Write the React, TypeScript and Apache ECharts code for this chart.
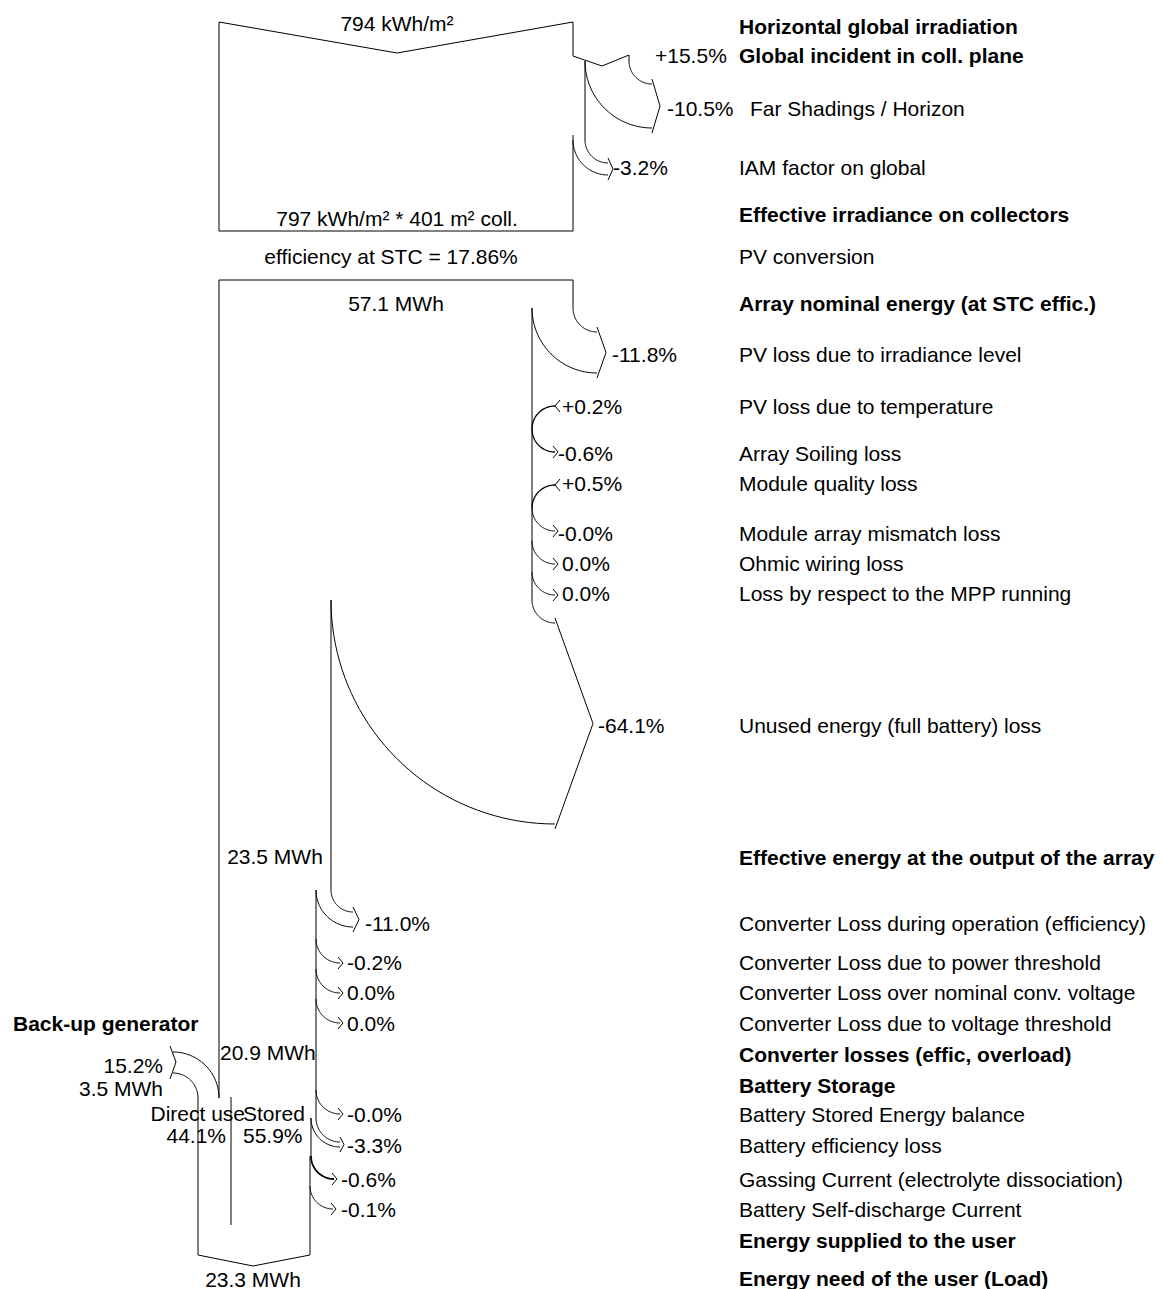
import React, { useEffect, useRef } from 'react';
import * as echarts from 'echarts';

// ---------------- DATA ----------------
const stepLabels = [
  'Horizontal global irradiation',
  'Global incident in coll. plane',
  'Far Shadings / Horizon',
  'IAM factor on global',
  'Effective irradiance on collectors',
  'PV conversion',
  'Array nominal energy (at STC effic.)',
  'PV loss due to irradiance level',
  'PV loss due to temperature',
  'Array Soiling loss',
  'Module quality loss',
  'Module array mismatch loss',
  'Ohmic wiring loss',
  'Loss by respect to the MPP running',
  'Unused energy (full battery) loss',
  'Effective energy at the output of the array',
  'Converter Loss during operation (efficiency)',
  'Converter Loss due to power threshold',
  'Converter Loss over nominal conv. voltage',
  'Converter Loss due to voltage threshold',
  'Converter losses (effic, overload)',
  'Battery Storage',
  'Battery Stored Energy balance',
  'Battery efficiency loss',
  'Gassing Current (electrolyte dissociation)',
  'Battery Self-discharge Current',
  'Energy supplied to the user',
  'Energy need of the user (Load)',
];
const stepBold = [1, 1, 0, 0, 1, 0, 1, 0, 0, 0, 0, 0, 0, 0, 0, 1, 0, 0, 0, 0, 1, 1, 0, 0, 0, 0, 1, 1];
const stepPercent = [
  '', '+15.5%', '-10.5%', '-3.2%', '', '', '', '-11.8%', '+0.2%', '-0.6%', '+0.5%', '-0.0%', '0.0%', '0.0%',
  '-64.1%', '', '-11.0%', '-0.2%', '0.0%', '0.0%', '', '', '-0.0%', '-3.3%', '-0.6%', '-0.1%', '', '',
];
const flowLabels = [
  '794 kWh/m²',
  '797 kWh/m² * 401 m² coll.',
  'efficiency at STC = 17.86%',
  '57.1 MWh',
  '23.5 MWh',
  '20.9 MWh',
  '23.3 MWh',
];
const backupLabels = ['Back-up generator', '15.2%', '3.5 MWh'];
const splitLabels = ['Direct use', '44.1%', 'Stored', '55.9%'];

// ---------------- LAYOUT ----------------
const rowY = [26, 55, 108, 167, 214, 256, 303, 354, 406, 453, 483, 533, 563, 593, 725, 857, 923, 962, 992, 1023, 1054, 1085, 1114, 1145, 1179, 1209, 1240, 1278];
const labelX = [739, 739, 750, 739, 739, 739, 739, 739, 739, 739, 739, 739, 739, 739, 739, 739, 739, 739, 739, 739, 739, 739, 739, 739, 739, 739, 739, 739];
const percentX = [0, 655, 667, 613, 0, 0, 0, 612, 562, 558, 562, 558, 562, 562, 598, 0, 365, 347, 347, 347, 0, 0, 347, 347, 341, 341, 0, 0];
// [x, y, align]
const flowPos: [number, number, string][] = [
  [397, 23, 'center'], [397, 218, 'center'], [391, 256, 'center'], [396, 303, 'center'],
  [275, 856, 'center'], [220, 1052, 'left'], [253, 1279, 'center'],
];
const backupPos: [number, number, string][] = [[13, 1023, 'left'], [163, 1065, 'right'], [163, 1088, 'right']];
const splitPos: [number, number, string][] = [[245, 1113, 'right'], [226, 1135, 'right'], [243, 1113, 'left'], [243, 1135, 'left']];

// Edges of the flow bands (polylines)
const edges: number[][][] = [
  [[573, 56], [573, 22], [397, 53], [219, 22], [219, 231], [573, 231], [573, 135]],
  [[573, 56], [602, 66], [629, 55], [629, 61]],
  [[585, 61], [585, 140]],
  [[573, 308], [573, 280], [219, 280], [219, 1098]],
  [[532, 308], [532, 600]],
  [[331, 600], [331, 890]],
  [[316, 890], [316, 1118]],
  [[311, 1118], [311, 1156]],
  [[198, 1098], [198, 1255], [253, 1266], [310, 1255], [310, 1156]],
  [[231, 1097], [231, 1225]],
];
// big losses: [xOuter, xInner, cx, cy, tip]
const bigLosses = [
  [629, 585, 652, 61, 8],
  [585, 573, 608, 140, 5],
  [573, 532, 597, 308, 9],
  [532, 331, 555, 600, 38],
  [331, 316, 353, 890, 6],
  [316, 311, 340, 1118, 4],
];
// small losses: [xStart, cx, cy, lineWidth]
const smallLosses = [
  [532, 555, 429, 1.3], [532, 555, 508, 1], [532, 555, 541, 1], [532, 555, 572, 1],
  [316, 340, 939, 1], [316, 340, 969, 1], [316, 340, 999, 1], [316, 340, 1090, 1],
  [311, 334, 1156, 1.8], [310, 333, 1186, 1],
];
// small gains: [xStart, cx, cy]
const smallGains = [[532, 555, 429], [532, 555, 508]];

const FONT = '"Liberation Sans", Arial, Helvetica, sans-serif';

function arcPts(cx: number, cy: number, r: number, a0: number, a1: number, n = 40) {
  const pts: number[][] = [];
  for (let i = 0; i <= n; i++) {
    const a = a0 + ((a1 - a0) * i) / n;
    pts.push([cx + r * Math.cos(a), cy + r * Math.sin(a)]);
  }
  return pts;
}

function buildShapes() {
  const shapes: { pts: number[][]; w: number }[] = [];
  edges.forEach((e) => shapes.push({ pts: e, w: 1 }));
  bigLosses.forEach(([xo, xi, cx, cy, tip]) => {
    const ro = cx - xo;
    const ri = cx - xi;
    shapes.push({ pts: arcPts(cx, cy, ro, Math.PI, Math.PI / 2), w: 1 });
    shapes.push({ pts: arcPts(cx, cy, ri, Math.PI, Math.PI / 2), w: 1 });
    shapes.push({ pts: [[cx, cy + ro - 5], [cx + tip, cy + (ro + ri) / 2], [cx, cy + ri + 5]], w: 1 });
  });
  smallLosses.forEach(([x0, cx, cy, w]) => {
    const r = cx - x0;
    shapes.push({ pts: arcPts(cx, cy, r, Math.PI, Math.PI / 2), w });
    const ey = cy + r;
    shapes.push({ pts: [[cx - 2, ey - 6], [cx + 3, ey], [cx - 2, ey + 6]], w: 1 });
  });
  smallGains.forEach(([x0, cx, cy]) => {
    const r = cx - x0;
    shapes.push({ pts: arcPts(cx, cy, r, (3 * Math.PI) / 2, Math.PI), w: 1.3 });
    const ey = cy - r;
    shapes.push({ pts: [[cx + 5, ey - 6], [cx, ey], [cx + 5, ey + 6]], w: 1 });
  });
  // back-up generator input
  shapes.push({ pts: arcPts(173, 1098, 46, -Math.PI / 2, 0), w: 1 });
  shapes.push({ pts: arcPts(173, 1098, 25, -Math.PI / 2, 0), w: 1 });
  shapes.push({ pts: [[170, 1046], [176, 1062], [170, 1079]], w: 1 });
  return shapes;
}

function buildTexts() {
  const texts: { x: number; y: number; text: string; bold: boolean; align: string }[] = [];
  stepLabels.forEach((t, i) => texts.push({ x: labelX[i], y: rowY[i], text: t, bold: !!stepBold[i], align: 'left' }));
  stepPercent.forEach((t, i) => {
    if (t) texts.push({ x: percentX[i], y: rowY[i], text: t, bold: false, align: 'left' });
  });
  flowLabels.forEach((t, i) => texts.push({ x: flowPos[i][0], y: flowPos[i][1], text: t, bold: false, align: flowPos[i][2] }));
  backupLabels.forEach((t, i) => texts.push({ x: backupPos[i][0], y: backupPos[i][1], text: t, bold: i === 0, align: backupPos[i][2] }));
  splitLabels.forEach((t, i) => texts.push({ x: splitPos[i][0], y: splitPos[i][1], text: t, bold: false, align: splitPos[i][2] }));
  return texts;
}

export default function App() {
  const ref = useRef<HTMLDivElement>(null);
  useEffect(() => {
    document.body.style.margin = '0';
    if (!ref.current) return;
    const chart = echarts.init(ref.current, undefined, { renderer: 'svg' });
    const shapes = buildShapes();
    const texts = buildTexts();
    chart.setOption({
      animation: false,
      backgroundColor: '#ffffff',
      grid: { left: 0, right: 0, top: 0, bottom: 0, containLabel: false },
      xAxis: { type: 'value', min: 0, max: 1164, show: false },
      yAxis: { type: 'value', min: 0, max: 1289, inverse: true, show: false },
      series: [
        {
          type: 'custom',
          name: 'flows',
          silent: true,
          data: shapes.map((s, i) => [s.pts[0][0], s.pts[0][1], i]),
          renderItem: (params: any, api: any) => {
            const s = shapes[api.value(2)];
            return {
              type: 'polyline',
              shape: { points: s.pts.map((p) => api.coord(p)) },
              style: { stroke: '#000', fill: 'none', lineWidth: s.w },
            };
          },
        },
        {
          type: 'custom',
          name: 'labels',
          silent: true,
          data: texts.map((t, i) => [t.x, t.y, i]),
          renderItem: (params: any, api: any) => {
            const t = texts[api.value(2)];
            const p = api.coord([api.value(0), api.value(1)]);
            return {
              type: 'text',
              x: p[0],
              y: p[1],
              style: {
                text: t.text,
                fill: '#000',
                fontSize: 21,
                fontFamily: FONT,
                fontWeight: t.bold ? 'bold' : 'normal',
                align: t.align,
                verticalAlign: 'middle',
              },
            };
          },
        },
      ],
    });
    return () => chart.dispose();
  }, []);
  return <div ref={ref} style={{ width: 1164, height: 1289 }} />;
}
